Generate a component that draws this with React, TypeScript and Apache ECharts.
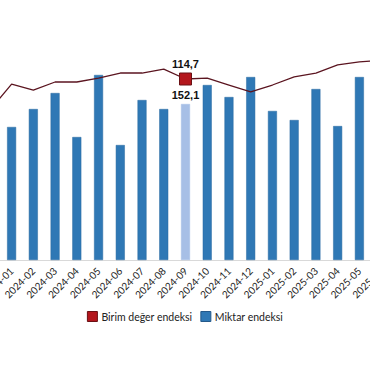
import React, { useEffect, useRef } from "react";
import * as echarts from "echarts";

const categories = [
  "2023-12", "2024-01", "2024-02", "2024-03", "2024-04", "2024-05", "2024-06",
  "2024-07", "2024-08", "2024-09", "2024-10", "2024-11", "2024-12",
  "2025-01", "2025-02", "2025-03", "2025-04", "2025-05", "2025-06",
];
const miktarEndeksi: (number | null)[] = [
  null, 129.7, 147.2, 162.8, 119.9, 180.4, 112.1, 156.0, 147.2, 152.1,
  170.6, 158.9, 178.4, 145.3, 136.5, 166.7, 130.6, 178.4, null,
];
const birimDegerEndeksi = [
  95.0, 111.5, 107.7, 112.8, 112.8, 115.3, 118.5, 118.5, 121.0, 114.7,
  115.3, 110.9, 106.5, 110.9, 116.0, 118.5, 123.6, 125.5, 126.7,
];
const highlightCategory = "2024-09";

const fmt = (v: number) => v.toFixed(1).replace(".", ",");

export default function App() {
  const ref = useRef<HTMLDivElement>(null);
  useEffect(() => {
    document.body.style.margin = "0";
    const chart = echarts.init(ref.current!, null, { renderer: "svg" });
    const hi = categories.indexOf(highlightCategory);
    chart.setOption({
      animation: false,
      textStyle: { fontFamily: "Lato" },
      legend: {
        top: 311,
        left: "center",
        padding: 0,
        itemWidth: 10,
        itemHeight: 10,
        itemGap: 8,
        icon: "rect",
        textStyle: { fontSize: 10.5, color: "#222", fontFamily: "Lato", padding: [0, 0, 0, -1] },
        data: [
          { name: "Birim değer endeksi", itemStyle: { color: "#b3161c", borderColor: "#6a1014", borderWidth: 1 } },
          { name: "Miktar endeksi", itemStyle: { color: "#2f78b5", borderColor: "#24598a", borderWidth: 1 } },
        ],
      },
      grid: { left: -21, right: -22, top: 20, bottom: 120, outerBoundsMode: "none", containLabel: false },
      xAxis: {
        type: "category",
        data: categories,
        axisTick: { show: false },
        axisLine: { lineStyle: { color: "#d9d9d9" } },
        axisLabel: { rotate: 45, fontSize: 10, color: "#222", interval: 0, margin: 9, fontFamily: "Lato" },
      },
      yAxis: [
        { type: "value", min: 0, max: 234, show: false, splitLine: { show: false } },
        { type: "value", min: 0, max: 152.1, show: false, splitLine: { show: false } },
      ],
      series: [
        {
          name: "Miktar endeksi",
          type: "bar",
          yAxisIndex: 0,
          barWidth: 9,
          itemStyle: { color: "#2f78b5", borderColor: "#2a6aa0", borderWidth: 0.5 },
          data: miktarEndeksi.map((v, i) =>
            i === hi
              ? {
                  value: v,
                  itemStyle: { color: "#a7bfe6", borderColor: "#a7bfe6" },
                  label: {
                    show: true,
                    position: "top",
                    distance: 4,
                    fontSize: 11,
                    fontWeight: "bold",
                    color: "#111",
                    fontFamily: "Liberation Sans",
                    formatter: (p: any) => fmt(p.value),
                  },
                }
              : v
          ),
          z: 2,
        },
        {
          name: "Birim değer endeksi",
          type: "line",
          yAxisIndex: 1,
          symbol: "none",
          showSymbol: true,
          lineStyle: { color: "#5b1520", width: 1.3 },
          itemStyle: { color: "#b3161c", borderColor: "#6a1014", borderWidth: 1 },
          data: birimDegerEndeksi.map((v, i) =>
            i === hi
              ? {
                  value: v,
                  symbol: "rect",
                  symbolSize: 12,
                  label: {
                    show: true,
                    position: "top",
                    distance: 3,
                    fontSize: 11,
                    fontWeight: "bold",
                    color: "#111",
                    fontFamily: "Liberation Sans",
                    formatter: (p: any) => fmt(p.value),
                  },
                }
              : v
          ),
          z: 3,
        },
      ],
    });
    return () => chart.dispose();
  }, []);
  return <div ref={ref} style={{ width: 370, height: 380 }} />;
}
